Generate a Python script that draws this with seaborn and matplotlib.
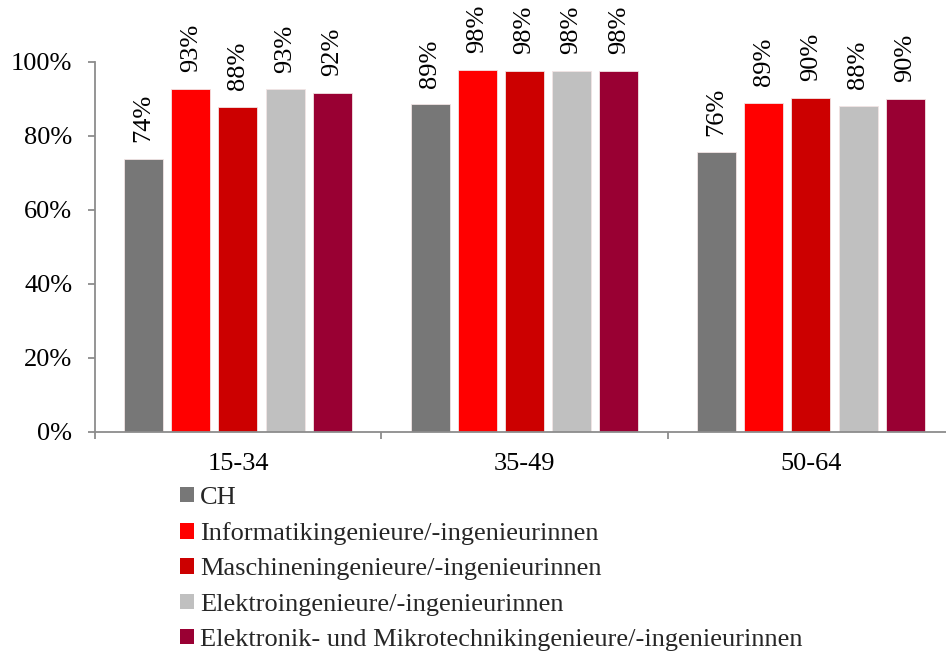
import matplotlib
matplotlib.use("Agg")
import matplotlib.pyplot as plt
import matplotlib.ticker as mticker
from matplotlib.patches import Patch
import seaborn as sns
import pandas as pd

# Age groups and occupational series
age_groups = ["15-34", "35-49", "50-64"]
series = [
    "CH",
    "Informatikingenieure/-ingenieurinnen",
    "Maschineningenieure/-ingenieurinnen",
    "Elektroingenieure/-ingenieurinnen",
    "Elektronik- und Mikrotechnikingenieure/-ingenieurinnen",
]
# Share in percent, one list per series (values per age group)
ch = [73.8, 88.6, 75.6]
informatik = [92.7, 97.9, 88.9]
maschinen = [87.8, 97.7, 90.4]
elektro = [92.6, 97.6, 88.1]
elektronik = [91.6, 97.7, 90.0]
colors = ["#777777", "#FF0000", "#CC0000", "#C0C0C0", "#990033"]
y_ticks = [0, 20, 40, 60, 80, 100]

values = [ch, informatik, maschinen, elektro, elektronik]
rows = []
for name, vals in zip(series, values):
    for g, v in zip(age_groups, vals):
        rows.append({"Alter": g, "Serie": name, "Anteil": v})
df = pd.DataFrame(rows)

sns.set_theme(style="white")
plt.rcParams["font.family"] = ["Liberation Serif", "DejaVu Serif"]

W, H = 946, 656
left_px, bottom_px, top_px = 94.7, 432, 62
unit_px = 286.5  # width of one age group on the x axis

fig = plt.figure(figsize=(W / 100, H / 100), dpi=100)
ax = fig.add_axes([left_px / W, 1 - bottom_px / H, 1 - left_px / W,
                   (bottom_px - top_px) / H])

sns.barplot(
    data=df, x="Alter", y="Anteil", hue="Serie", hue_order=series,
    order=age_groups, palette=colors, width=0.822, gap=0.17,
    saturation=1, ax=ax, legend=False, errorbar=None,
    edgecolor="#f2e4e4", linewidth=0.6,
)

for cont in ax.containers:
    labels = [f"{v:.0f}%" for v in cont.datavalues]
    ax.bar_label(cont, labels=labels, rotation=90, padding=12,
                 fontsize=19, color="black")

ax.set_yticks(y_ticks)
ax.yaxis.set_major_formatter(mticker.FuncFormatter(lambda v, p: f"{v:.0f}%"))
ax.set_xlabel("")
ax.set_ylabel("")

spine_col = "#8c8c8c"
for s in ["top", "right"]:
    ax.spines[s].set_visible(False)
for s in ["left", "bottom"]:
    ax.spines[s].set_color(spine_col)
    ax.spines[s].set_linewidth(1.3)

ax.tick_params(axis="y", which="major", left=True, length=5, width=1.3,
               color=spine_col, labelsize=19, pad=11, labelcolor="black")
ax.tick_params(axis="x", which="major", bottom=False, length=0,
               labelsize=19, pad=15, labelcolor="black")
ax.set_xticks([-0.5, 0.5, 1.5, 2.5], minor=True)
ax.tick_params(axis="x", which="minor", bottom=True, length=5, width=1.3,
               color=spine_col)

# limits last, so tick placement cannot widen them
ax.set_ylim(0, 100)
ax.set_xlim(-0.5, -0.5 + (W - left_px) / unit_px)

handles = [Patch(facecolor=c, edgecolor="none") for c in colors]
fig.legend(
    handles, series, loc="upper left", bbox_to_anchor=(180 / W, 1 - 487 / H),
    frameon=False, fontsize=19, handlelength=0.52, handleheight=0.52,
    handletextpad=0.25, labelspacing=0.5, borderaxespad=0, borderpad=0,
)

fig.savefig("out.png", dpi=100)
